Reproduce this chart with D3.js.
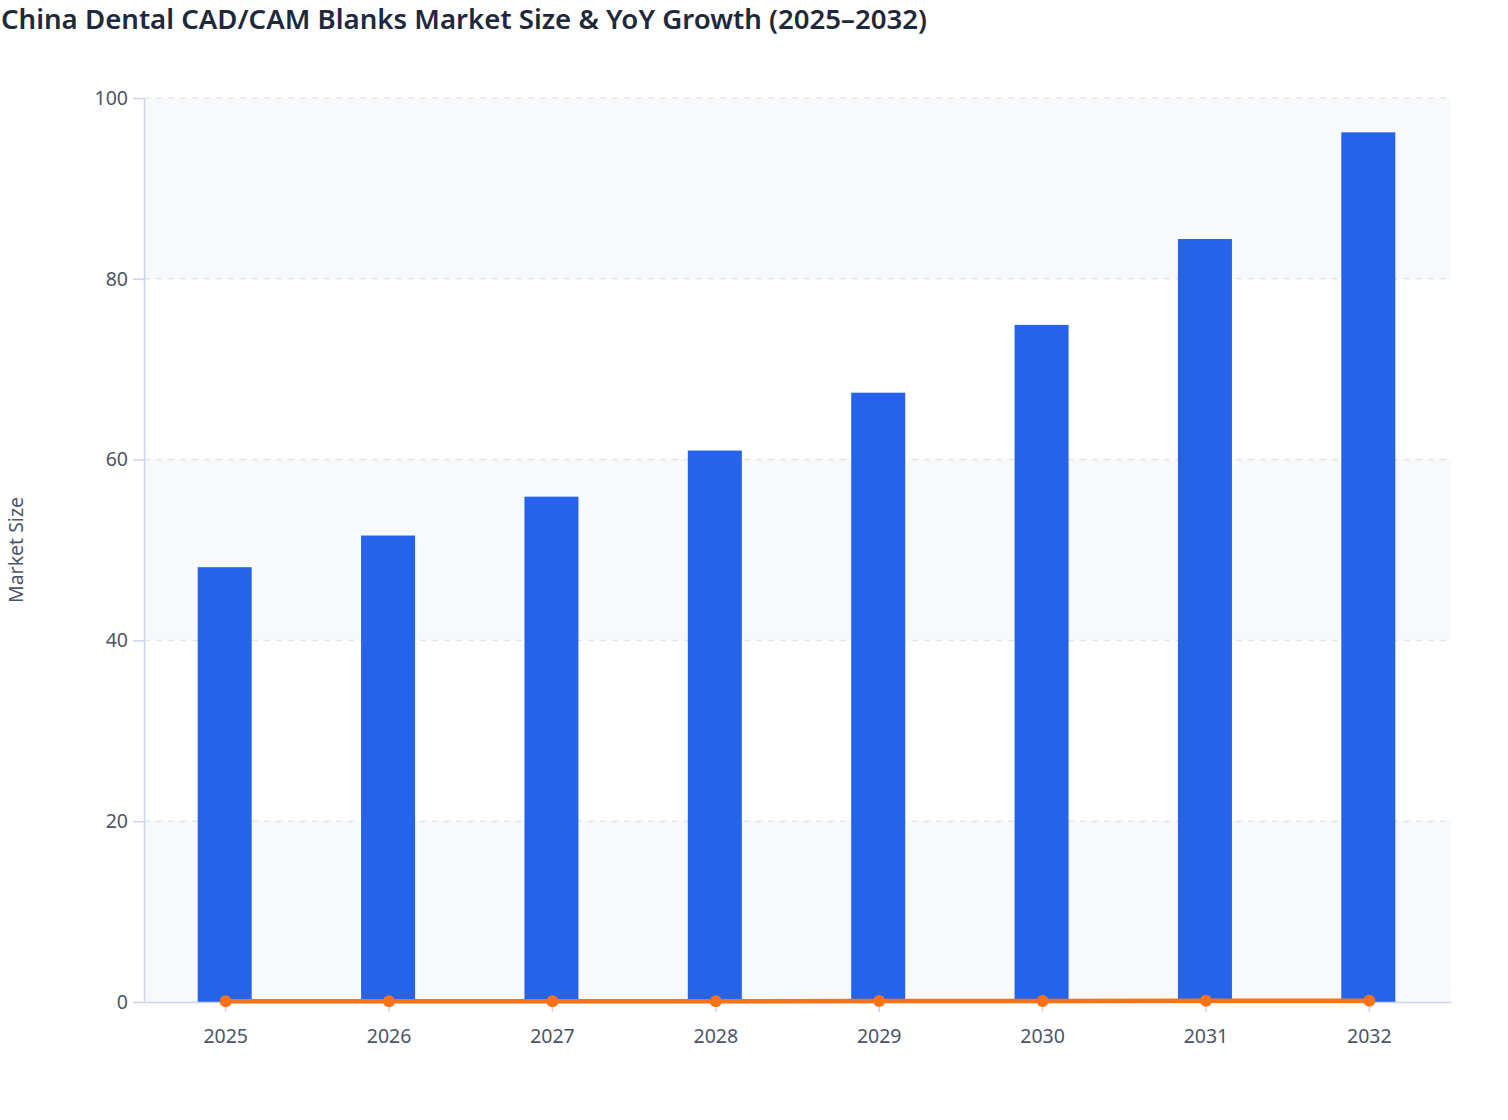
<!DOCTYPE html>
<html>
<head>
<style>
  body {
    background-color: white;
    margin: 0px;
    font-family: "Noto Sans", "Open Sans", sans-serif;
  }
  svg {
    display: block;
  }
</style>
<script src="https://cdn.jsdelivr.net/npm/d3@7"></script>
</head>
<body>
  <svg></svg>
</body>
<script>
const years = ["2025", "2026", "2027", "2028", "2029", "2030", "2031", "2032"];
const marketSize = [48.1, 51.6, 55.9, 61.0, 67.4, 74.9, 84.4, 96.2];
const yoyGrowth = [0.07, 0.073, 0.083, 0.091, 0.105, 0.111, 0.127, 0.14];
const yTicks = [0, 20, 40, 60, 80, 100];

const width = 1508,
    height = 1120,
    margin = {top: 98, right: 57, bottom: 118, left: 144};

const svg = d3.select("svg")
    .attr("width", width)
    .attr("height", height);

const x = d3.scaleBand()
    .domain(years)
    .range([margin.left, width - margin.right]);

const y = d3.scaleLinear()
    .domain([0, 100])
    .range([height - margin.bottom, margin.top]);

// title
svg.append("text")
    .attr("x", 1)
    .attr("y", 29)
    .attr("font-size", 27.6)
    .attr("font-weight", 600)
    .attr("fill", "#1e293b")
    .text("China Dental CAD/CAM Blanks Market Size & YoY Growth (2025–2032)");

// alternating bands (0-20 shaded, 20-40 clear, ...)
const bands = d3.pairs(yTicks).filter(function(d, i) {return i % 2 == 0});
svg.append("g")
  .selectAll("rect")
  .data(bands)
  .join("rect")
    .attr("x", margin.left)
    .attr("width", width - margin.right - margin.left)
    .attr("y", function(d) {return y(d[1])})
    .attr("height", function(d) {return y(d[0]) - y(d[1])})
    .attr("fill", "#f8f9fb");

// dashed grid
svg.append("g")
  .selectAll("line")
  .data(yTicks.slice(1))
  .join("line")
    .attr("x1", margin.left)
    .attr("x2", width - margin.right)
    .attr("y1", function(d) {return y(d)})
    .attr("y2", function(d) {return y(d)})
    .attr("stroke", "#e3e6eb")
    .attr("stroke-width", 1.5)
    .attr("stroke-dasharray", "6,6");

// bars
svg.append("g")
  .selectAll("rect")
  .data(marketSize)
  .join("rect")
    .attr("x", function(d, i) {return x(years[i]) + x.bandwidth() / 2 - 28})
    .attr("width", 54)
    .attr("y", function(d) {return y(d)})
    .attr("height", function(d) {return y(0) - y(d)})
    .attr("fill", "#2563eb");

// y axis
const yAxis = svg.append("g")
    .attr("transform", `translate(${margin.left},0)`)
    .call(d3.axisLeft(y).tickValues(yTicks).tickSize(11).tickSizeOuter(0).tickPadding(5));

// x axis
const xAxis = svg.append("g")
    .attr("transform", `translate(0,${y(0)})`)
    .call(d3.axisBottom(x).tickSize(10).tickSizeOuter(0).tickPadding(17));

[yAxis, xAxis].forEach(function(g) {
  g.select(".domain").attr("stroke", "#ccd3ee").attr("stroke-width", 1.5);
  g.selectAll(".tick line").attr("stroke", "#ccd3ee").attr("stroke-width", 1.5);
  g.selectAll(".tick text")
      .attr("font-family", "Noto Sans")
      .attr("font-size", 19.5)
      .attr("fill", "#4b5567");
});

// growth line
const line = d3.line()
    .x(function(d, i) {return x(years[i]) + x.bandwidth() / 2})
    .y(function(d) {return y(d)});

svg.append("path")
    .datum(yoyGrowth)
    .attr("d", line)
    .attr("fill", "none")
    .attr("stroke", "#f97316")
    .attr("stroke-width", 4.5);

svg.append("g")
  .selectAll("circle")
  .data(yoyGrowth)
  .join("circle")
    .attr("cx", function(d, i) {return x(years[i]) + x.bandwidth() / 2})
    .attr("cy", function(d) {return y(d)})
    .attr("r", 6)
    .attr("fill", "#f97316");

// y axis title
svg.append("text")
    .attr("transform", `translate(23,${(y(0) + y(100)) / 2}) rotate(-90)`)
    .attr("text-anchor", "middle")
    .attr("font-size", 19.5)
    .attr("fill", "#4b5567")
    .text("Market Size");
</script>
</html>
